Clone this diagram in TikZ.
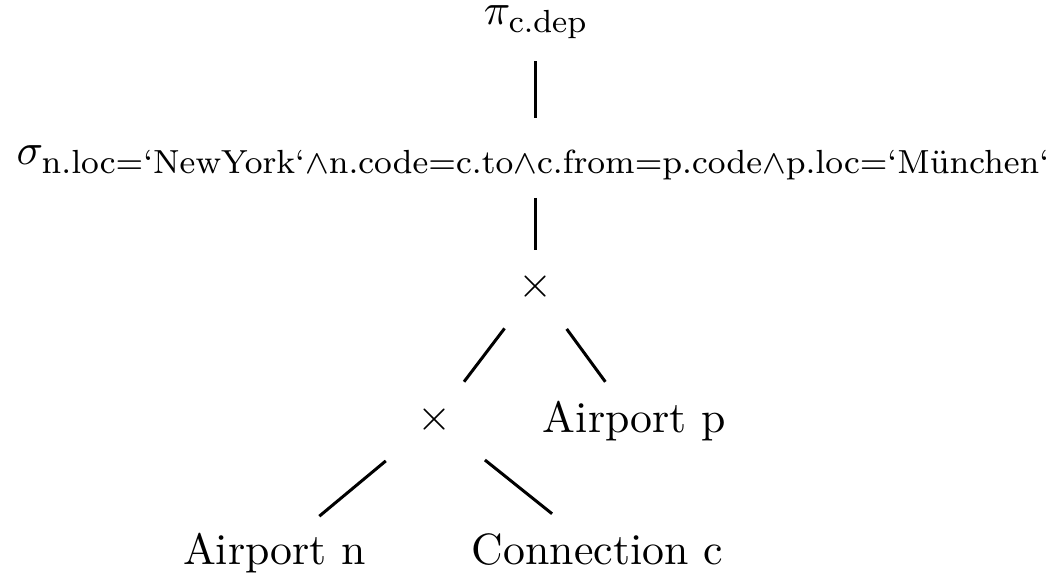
\documentclass[tikz,border=0pt]{standalone}
\usetikzlibrary{calc}

\tikzset{
  lbl/.style={inner sep=0pt, outer sep=0pt, font=\fontsize{10.95}{13}\selectfont},
  edge/.style={line width=0.75pt, black},
}

\begin{document}
\begin{tikzpicture}[x=0.25pt, y=-0.25pt]
  \useasboundingbox (0,0) rectangle (1054,574);

  % operator nodes of the query tree
  \node[lbl, anchor=base] (pi) at (536,25) {$\pi_{\mathrm{c.dep}}$};
  \node[lbl, anchor=base] (sig) at (534,165)
    {$\sigma_{\scalebox{1.045}{$\scriptstyle\mathrm{n.loc=`NewYork`\wedge n.code=c.to\wedge c.from=p.code\wedge p.loc=`M\ddot{u}nchen`}$}}$};
  \node[lbl] (x1) at (536,287) {$\times$};
  \node[lbl] (x2) at (435,420) {$\times$};

  % relations (leaves)
  \node[lbl, anchor=base west] (ap) at (543,433) {Airport p};
  \node[lbl, anchor=base west] (an) at (183,565) {Airport n};
  \node[lbl, anchor=base west] (cc) at (472,565) {Connection c};

  % tree edges
  \draw[edge, shorten <=9.75pt, shorten >=11.25pt] (pi.center) -- (pi.center |- sig.center);
  \draw[edge, shorten <=8.75pt, shorten >=9.25pt] (x1.center |- sig.center) -- (x1.center);
  \draw[edge, shorten <=13pt, shorten >=12pt] (x1.center) -- (x2.center);
  \draw[edge, shorten <=13pt, shorten >=12.3pt] (x1.center) -- (ap.center);
  \draw[edge, shorten <=16pt, shorten >=14.6pt] (x2.center) -- (an.center);
  \draw[edge, shorten <=16pt, shorten >=14.5pt] (x2.center) -- (cc.center);
\end{tikzpicture}
\end{document}
